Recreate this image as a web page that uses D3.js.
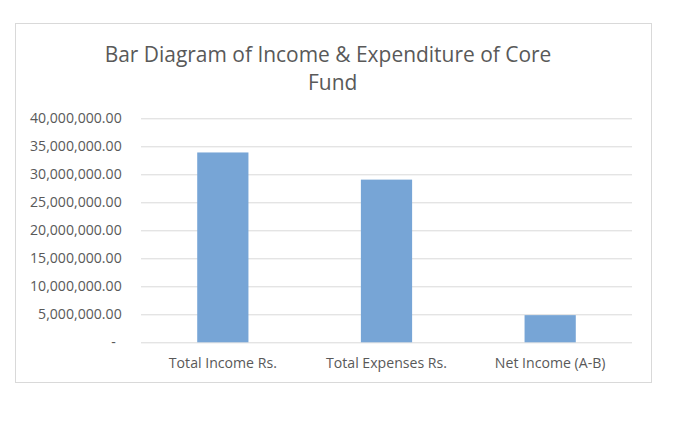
<!DOCTYPE html>
<html>
<head>
<meta charset="utf-8">
<script src="https://cdn.jsdelivr.net/npm/d3@7"></script>
<style>
  html, body { margin: 0; padding: 0; background: #ffffff; }
  svg { display: block; }
  text { font-family: "Open Sans", "Liberation Sans", sans-serif; fill: #595959; }
</style>
</head>
<body>
<svg id="chart" width="700" height="424"></svg>
<script>
// ---- data ----
const categories = ["Total Income Rs.", "Total Expenses Rs.", "Net Income (A-B)"];
const values = [33900000, 29050000, 4850000];
const yTicks = [0, 5000000, 10000000, 15000000, 20000000, 25000000, 30000000, 35000000, 40000000];
const titleLines = ["Bar Diagram of Income & Expenditure of Core", "Fund"];

// ---- layout ----
const svg = d3.select("#chart");
const frame = { x: 15, y: 23, w: 636, h: 359 };
const plot = { left: 141, right: 632, top: 118.3, bottom: 342.3 };

svg.append("rect")
  .attr("x", frame.x + 0.5).attr("y", frame.y + 0.5)
  .attr("width", frame.w).attr("height", frame.h)
  .attr("fill", "#ffffff").attr("stroke", "#d9d9d9").attr("stroke-width", 1);

// helper: fit text to a target width by adjusting font size
function fit(sel, targetW) {
  const n = sel.node();
  const fs = parseFloat(sel.attr("font-size"));
  const w = n.getComputedTextLength();
  if (w > 0) sel.attr("font-size", (fs * targetW / w).toFixed(2));
  return sel;
}

// title
const t1 = svg.append("text").attr("x", 328).attr("y", 61.7)
  .attr("text-anchor", "middle").attr("font-size", 24).text(titleLines[0]);
fit(t1, 447);
const t2 = svg.append("text").attr("x", 332.7).attr("y", 90)
  .attr("text-anchor", "middle").attr("font-size", t1.attr("font-size")).text(titleLines[1]);

// scales
const x = d3.scaleBand().domain(categories)
  .range([plot.left, plot.right])
  .paddingInner(0.687).paddingOuter(0.3435);
const y = d3.scaleLinear().domain([0, 40000000]).range([plot.bottom, plot.top]);

// gridlines
const grid = svg.append("g").attr("transform", `translate(${plot.left},0)`)
  .call(d3.axisLeft(y).tickValues(yTicks).tickSize(-(plot.right - plot.left)).tickFormat(""));
grid.select(".domain").remove();
grid.selectAll("line").attr("stroke", "#d9d9d9").attr("stroke-width", 1);

// bars
svg.append("g").selectAll("rect").data(values).join("rect")
  .attr("x", (d, i) => x(categories[i]))
  .attr("width", x.bandwidth())
  .attr("y", d => y(d))
  .attr("height", d => y(0) - y(d))
  .attr("fill", "#77a5d6");

// y axis labels
const fmt = d3.format(",.2f");
const yAxis = svg.append("g").attr("transform", `translate(${plot.left},0)`)
  .call(d3.axisLeft(y).tickValues(yTicks).tickSize(0).tickPadding(19.3)
    .tickFormat(d => d === 0 ? "-" : fmt(d)));
yAxis.select(".domain").remove();
yAxis.selectAll("text").attr("font-size", 13).attr("fill", "#595959")
  .attr("font-family", '"Open Sans", sans-serif');
// fit y label size by widest label
const widest = yAxis.selectAll("text").filter(d => d === 40000000);
const wNow = widest.node().getComputedTextLength();
const yfs = 13 * 91.7 / wNow;
yAxis.selectAll("text").attr("font-size", yfs.toFixed(2));
yAxis.selectAll("text").filter(d => d === 0).attr("dx", "-6");

// x axis labels
const xAxis = svg.append("g").attr("transform", `translate(0,${plot.bottom})`)
  .call(d3.axisBottom(x).tickSize(0).tickPadding(0));
xAxis.select(".domain").remove();
xAxis.selectAll("text").attr("font-size", yfs.toFixed(2)).attr("fill", "#595959")
  .attr("font-family", '"Open Sans", sans-serif')
  .attr("dy", null).attr("y", 25.7);
</script>
</body>
</html>
